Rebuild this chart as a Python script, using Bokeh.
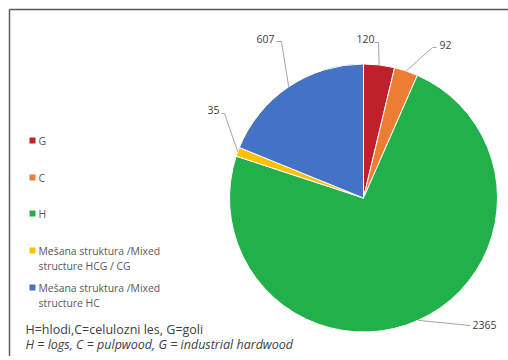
import numpy as np
from bokeh.plotting import figure
from bokeh.models import Range1d
from bokeh.core.properties import value
from bokeh.embed import file_html
from bokeh.resources import INLINE

# ---- data ----
categories = ["G", "C", "H", "Mešana struktura /Mixed\nstructure HCG / CG", "Mešana struktura /Mixed\nstructure HC"]
values = [120, 92, 2365, 35, 607]
colors = ["#C0202A", "#ED7D31", "#22B04B", "#FFC000", "#4472C4"]
note_1 = "H=hlodi,C=celulozni les, G=goli"
note_2 = "H = logs, C = pulpwood, G = industrial hardwood"

# ---- layout (pixel coordinates, y measured from top) ----
W, H = 508, 360
CX, CY, R = 363, 197.5, 134
label_pos = [(365, 38), (445, 44), (484, 324), (213, 109), (265, 38)]
elbows = [[(378, 42), (374, 42)],
          [(432, 47), (436, 47)],
          [(470, 325)],
          [(224, 113), (221, 113)],
          [(281, 41), (276, 41)]]
legend_y = [140, 177, 213, 250, 287]
legend_x = 32
line_gap = 15

def fy(y):
    return H - y

p = figure(width=W, height=H - 4, output_backend="svg", toolbar_location=None,
           x_range=Range1d(0, W), y_range=Range1d(4, H), min_border=0)
p.axis.visible = False
p.grid.visible = False
p.outline_line_color = None
p.border_fill_color = "white"
p.background_fill_color = "white"

# border (top and left only visible)
p.segment(x0=[9, 9], y0=[fy(9), fy(9)], x1=[9, W], y1=[fy(H), fy(9)],
          line_color="#5a5a5a", line_width=1.5)

# pie
vals = np.array(values, dtype=float)
frac = vals / vals.sum()
cum_end = np.cumsum(frac)
cum_start = cum_end - frac
start = np.pi / 2 - 2 * np.pi * cum_start
end = np.pi / 2 - 2 * np.pi * cum_end
p.wedge(x=CX, y=fy(CY), radius=R, start_angle=start, end_angle=end,
        direction="clock", fill_color=colors, line_color="white", line_width=1)

# leader lines & labels
mid = 2 * np.pi * (cum_start + cum_end) / 2
ex = CX + R * np.sin(mid)
ey = CY - R * np.cos(mid)
xs, ys = [], []
for i in range(len(values)):
    pts = [(ex[i], ey[i])] + elbows[i]
    xs.append([pt[0] for pt in pts])
    ys.append([fy(pt[1]) for pt in pts])
p.multi_line(xs, ys, line_color="#A6A6A6", line_width=1)
p.text(x=[lp[0] for lp in label_pos], y=[fy(lp[1]) for lp in label_pos],
       text=[str(v) for v in values], text_align="center", text_baseline="middle",
       text_font=value("Open Sans"), text_font_size="10.5px", text_color="#404040")

# legend
p.scatter(x=[legend_x] * len(categories), y=[fy(y) for y in legend_y], marker="square",
          size=6, fill_color=colors, line_color=None)
tx, ty, tt = [], [], []
for cat, y0 in zip(categories, legend_y):
    for k, ln in enumerate(cat.split("\n")):
        tx.append(legend_x + 6)
        ty.append(fy(y0 + k * line_gap))
        tt.append(ln)
p.text(x=tx, y=ty, text=tt, text_align="left", text_baseline="middle",
       text_font=value("Open Sans"), text_font_size="10.4px", text_color="#595959")

# notes
p.text(x=[25], y=[fy(329)], text=[note_1], text_baseline="middle",
       text_font=value("Open Sans"), text_font_size="12.5px", text_color="#404040")
p.text(x=[25], y=[fy(344)], text=[note_2], text_baseline="middle",
       text_font=value("Open Sans"), text_font_size="12.5px", text_font_style="italic",
       text_color="#404040")

open("out.html", "w").write(file_html(p, INLINE))
